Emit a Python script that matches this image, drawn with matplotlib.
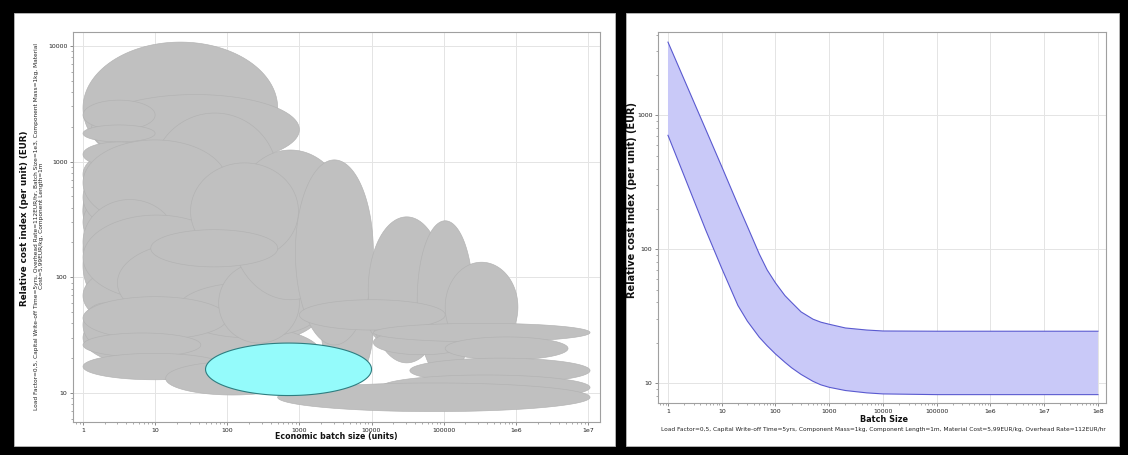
"""
Process cost bubbles vs batch size, and cost band for the selected process.
"""

import numpy as np
import matplotlib
matplotlib.use("Agg")
import matplotlib.pyplot as plt
from matplotlib.patches import Rectangle
from matplotlib.ticker import FixedLocator, FixedFormatter, LogLocator, NullFormatter

# ---- left chart: one ellipse per process (range of batch size and cost) ----
proc_batch_min = [1, 1, 1, 200, 100, 2000, 3, 1, 8000, 1500,
                  1, 1, 1, 1, 1,
                  1, 1.3, 1, 1, 1, 1, 9, 1, 1, 1, 3, 20, 1, 1, 1, 14, 76, 111, 31, 8.7,
                  880, 9000, 43000, 105000, 1000, 10600, 10600, 105000, 34000, 13200, 500]
proc_batch_max = [300, 60, 1000, 10000, 3000, 10600, 2000, 30, 60000, 10600,
                  5, 8, 15, 4, 6,
                  500, 1000, 10, 10, 10, 10, 500, 100, 20, 110, 300, 2000, 100, 43, 95,
                  1000, 1000, 5090, 970, 500,
                  10600, 105000, 257000, 1.07e6, 105000, 230000, 1.07e7, 5.3e6, 1.07e7,
                  1.07e7, 1.07e7]
proc_cost_min = [100, 40, 15, 40, 30, 12, 12, 150, 25, 40,
                 100, 500, 40, 25, 180,
                 780, 940, 1880, 1480, 900, 273, 207, 280, 86, 64, 40, 30, 29, 20.5, 13,
                 9.6, 27, 64, 142, 123,
                 26, 18.2, 13.2, 22.6, 35, 21.4, 27.7, 19.3, 12.2, 8.7, 6.9]
proc_cost_max = [1500, 400, 60, 800, 300, 120, 40, 900, 120, 400,
                 300, 1200, 120, 60, 500,
                 10800, 3800, 3400, 2075, 1480, 884, 2630, 1540, 470, 345, 200, 90, 68, 33,
                 22, 18.6, 133, 1260, 975, 258,
                 1035, 333, 308, 135, 64, 35, 40, 30.5, 20, 14.3, 12.2]

# highlighted process
sel_batch = (50, 10000)
sel_cost = (9.5, 27)

# ---- right chart: cost band for the selected process ----
batch_size = [1, 2, 5, 10, 20, 30, 50, 70, 100, 150, 200, 300, 500, 700, 1000,
              2000, 5000, 10000, 1e5, 1e6, 1e7, 1e8]
cost_high = [3520, 1850, 790, 414, 215, 148, 92, 70, 56, 45, 40, 34, 30, 28.5, 27.5,
             25.8, 24.9, 24.5, 24.4, 24.4, 24.4, 24.4]
cost_low = [709, 353, 140, 72, 38, 29, 22, 19, 16.5, 14.3, 13, 11.6, 10.3, 9.7, 9.3,
            8.8, 8.45, 8.3, 8.2, 8.2, 8.2, 8.2]

left_xticks = [1, 10, 100, 1000, 10000, 100000, 1e6, 1e7]
left_xlabels = ["1", "10", "100", "1000", "10000", "100000", "1e6", "1e7"]
right_xticks = [1, 10, 100, 1000, 10000, 100000, 1e6, 1e7, 1e8]
right_xlabels = ["1", "10", "100", "1000", "10000", "100000", "1e6", "1e7", "1e8"]

GREY = "#c0c0c0"
GREY_EDGE = "#b2b2b2"
CYAN = "#94fbfb"
CYAN_EDGE = "#2e7d80"
BAND = "#c9c9f8"
BAND_LINE = "#5a5ad0"

_t = np.linspace(0, 2 * np.pi, 240)


def ellipse_xy(x0, x1, y0, y1):
    # axis-aligned ellipse in log-log space spanning the given ranges
    lx0, lx1 = np.log10(x0), np.log10(x1)
    ly0, ly1 = np.log10(y0), np.log10(y1)
    cx, rx = (lx0 + lx1) / 2, (lx1 - lx0) / 2
    cy, ry = (ly0 + ly1) / 2, (ly1 - ly0) / 2
    return 10 ** (cx + rx * np.cos(_t)), 10 ** (cy + ry * np.sin(_t))


def style_axes(ax, xticks, xlabels, yticks):
    ax.set_xscale("log")
    ax.set_yscale("log")
    ax.xaxis.set_major_locator(FixedLocator(xticks))
    ax.xaxis.set_major_formatter(FixedFormatter(xlabels))
    ax.xaxis.set_minor_locator(LogLocator(base=10, subs=np.arange(2, 10), numticks=50))
    ax.xaxis.set_minor_formatter(NullFormatter())
    ax.yaxis.set_major_locator(FixedLocator(yticks))
    ax.yaxis.set_major_formatter(FixedFormatter([str(v) for v in yticks]))
    ax.yaxis.set_minor_locator(LogLocator(base=10, subs=np.arange(2, 10), numticks=50))
    ax.yaxis.set_minor_formatter(NullFormatter())
    ax.tick_params(which="major", length=2.5, width=0.6, color="#777777",
                   labelsize=4.5, pad=1.5, labelcolor="#222222")
    ax.tick_params(which="minor", length=1.5, width=0.5, color="#888888")
    for s in ax.spines.values():
        s.set_color("#a0a0a0")
        s.set_linewidth(0.8)
    ax.grid(True, which="major", color="#e4e4e4", lw=0.7)
    ax.set_axisbelow(True)


fig = plt.figure(figsize=(11.28, 4.55), dpi=100, facecolor="black")
W, H = 1128, 455

# white panels
for (px0, px1) in [(14, 615), (626, 1119)]:
    fig.add_artist(Rectangle((px0 / W, 1 - 446 / H), (px1 - px0) / W, (446 - 13) / H,
                             transform=fig.transFigure, facecolor="white",
                             edgecolor="#bbbbbb", lw=0.6, zorder=0))

# ---- left: bubbles ----
ax1 = fig.add_axes([73 / W, 1 - 422 / H, 527 / W, 390 / H])
ax1.set_facecolor("white")
style_axes(ax1, left_xticks, left_xlabels, [10, 100, 1000, 10000])
for x0, x1, y0, y1 in zip(proc_batch_min, proc_batch_max, proc_cost_min, proc_cost_max):
    ex, ey = ellipse_xy(x0, x1, y0, y1)
    ax1.fill(ex, ey, facecolor=GREY, edgecolor=GREY_EDGE, lw=0.45, zorder=2)
ex, ey = ellipse_xy(*sel_batch, *sel_cost)
ax1.fill(ex, ey, facecolor=CYAN, edgecolor=CYAN_EDGE, lw=0.8, zorder=3)
ax1.set_xlim(0.727, 1.47e7)
ax1.set_ylim(5.61, 13200)

fig.text(336 / W, 1 - 437 / H, "Economic batch size (units)", ha="center", va="center",
         fontsize=5.7, fontweight="bold", color="#111111")
fig.text(25 / W, 1 - 218 / H, "Relative cost index (per unit) (EUR)", ha="center",
         va="center", rotation=90, fontsize=6.3, fontweight="bold", color="#111111")
fig.text(39 / W, 1 - 226 / H,
         "Load Factor=0,5, Capital Write-off Time=5yrs, Overhead Rate=112EUR/hr, "
         "Batch Size=1e3, Component Mass=1kg, Material\n"
         "Cost=5,99EUR/kg, Component Length=1m",
         ha="center", va="center", rotation=90, fontsize=4.2, color="#222222",
         multialignment="center", linespacing=1.1)

# ---- right: cost band ----
ax2 = fig.add_axes([658 / W, 1 - 403 / H, 448 / W, 371 / H])
ax2.set_facecolor("white")
style_axes(ax2, right_xticks, right_xlabels, [10, 100, 1000])
ax2.fill_between(batch_size, cost_low, cost_high, facecolor=BAND, edgecolor="none", zorder=2)
ax2.plot(batch_size, cost_high, color=BAND_LINE, lw=0.8, zorder=3)
ax2.plot(batch_size, cost_low, color=BAND_LINE, lw=0.8, zorder=3)
ax2.set_xlim(0.652, 1.41e8)
ax2.set_ylim(7.1, 4190)

fig.text(884 / W, 1 - 420 / H, "Batch Size", ha="center", va="center",
         fontsize=5.9, fontweight="bold", color="#111111")
fig.text(883 / W, 1 - 430 / H,
         "Load Factor=0,5, Capital Write-off Time=5yrs, Component Mass=1kg, "
         "Component Length=1m, Material Cost=5,99EUR/kg, Overhead Rate=112EUR/hr",
         ha="center", va="center", fontsize=4.2, color="#222222")
fig.text(632 / W, 1 - 200 / H, "Relative cost index (per unit) (EUR)", ha="center",
         va="center", rotation=90, fontsize=7.0, fontweight="bold", color="#111111")

fig.savefig("out.png", dpi=100, facecolor="black")
